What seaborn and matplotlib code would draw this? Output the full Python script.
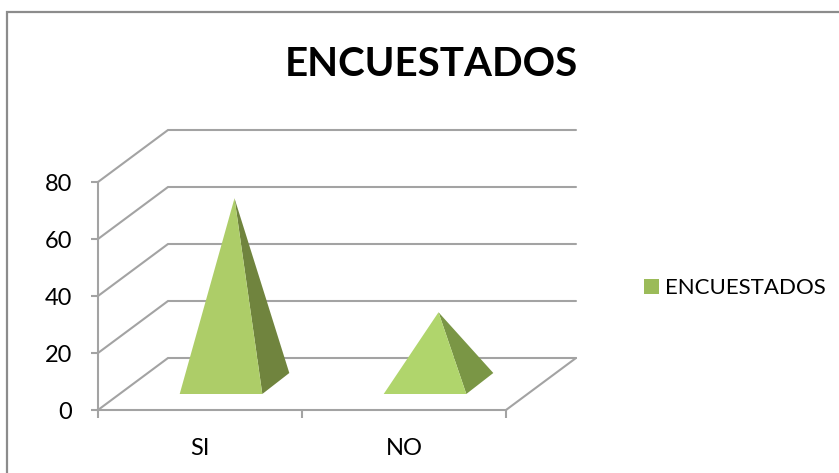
import matplotlib
matplotlib.use('Agg')
import matplotlib.pyplot as plt
import seaborn as sns
import pandas as pd
from matplotlib.lines import Line2D
from matplotlib.patches import Patch, Polygon

# Data
categories = ['SI', 'NO']
encuestados = [65, 25]
y_ticks = [0, 20, 40, 60, 80]

sns.set_theme(style='white')
plt.rcParams['font.family'] = ['Lato', 'DejaVu Sans']

W, H = 839, 473
GRID = '#a3a3a3'
FRONT = ['#adcd68', '#b0d56c']
SIDE = ['#70843e', '#7a9645']

fig = plt.figure(figsize=(W / 100, H / 100), dpi=100)
ax = fig.add_axes([98 / W, 1 - 410 / H, 408 / W, 228 / H])

df = pd.DataFrame({'respuesta': categories, 'encuestados': encuestados})
sns.barplot(data=df, x='respuesta', y='encuestados', width=0.405, ax=ax)
ax.set_xlim(-0.5, 1.5)
ax.set_ylim(0, 80)
ax.set_xlabel('')
ax.set_ylabel('')

# pixel offsets converted to data units
px_x = 2.0 / 408
px_y = 80 / 228
DEPTH_X, DEPTH_Y = 70 * px_x, 52 * px_y
BAR_DX, BAR_DY = 21 * px_x, 16 * px_y
SIDE_DX, SIDE_DY = 27 * px_x, 21 * px_y

# back wall, left wall and floor
for v in y_ticks:
    ax.plot([-0.5, -0.5 + DEPTH_X, 1.5 + DEPTH_X], [v, v + DEPTH_Y, v + DEPTH_Y],
            color=GRID, lw=1.5, clip_on=False, zorder=1, solid_joinstyle='miter')
ax.plot([1.5, 1.5 + DEPTH_X], [0, DEPTH_Y], color=GRID, lw=1.5, clip_on=False, zorder=1)

# pyramids, built on the bars seaborn placed
for i, bar in enumerate(ax.patches):
    x0 = bar.get_x() + BAR_DX
    x1 = x0 + bar.get_width()
    y0 = BAR_DY
    apex = ((x0 + x1 + SIDE_DX) / 2, y0 + SIDE_DY / 2 + bar.get_height())
    back = (x1 + SIDE_DX, y0 + SIDE_DY)
    ax.add_patch(Polygon([(x1, y0), back, apex], closed=True, fc=SIDE[i], ec='none',
                         clip_on=False, zorder=3))
    ax.add_patch(Polygon([(x0, y0), (x1, y0), apex], closed=True, fc=FRONT[i], ec='none',
                         clip_on=False, zorder=4))
    bar.set_visible(False)

# axes and ticks
sns.despine(ax=ax, top=True, right=True)
for side in ['left', 'bottom']:
    ax.spines[side].set_color(GRID)
    ax.spines[side].set_linewidth(1.5)
ax.set_yticks(y_ticks)
ax.set_xticks([0, 1], labels=categories)
ax.set_xticks([-0.5, 0.5, 1.5], minor=True)
ax.tick_params(axis='y', left=True, length=5, width=1.5, color=GRID, labelsize=17,
               labelcolor='black', pad=13.5)
ax.tick_params(axis='x', which='major', bottom=False, labelsize=17, labelcolor='black', pad=14)
ax.tick_params(axis='x', which='minor', bottom=True, length=6, width=1.5, color=GRID)

fig.text(431 / W, 1 - 64 / H, 'ENCUESTADOS', fontsize=29, fontweight='bold',
         ha='center', va='center', color='black')

handle = Patch(fc='#9bbb59', ec='none')
fig.legend(handles=[handle], labels=['ENCUESTADOS'], loc='center left',
           bbox_to_anchor=(637 / W, 1 - 288 / H), frameon=False, fontsize=16,
           labelcolor='black', handlelength=0.68, handleheight=0.68, handletextpad=0.3,
           borderpad=0, borderaxespad=0.3)

# outer chart frame, cut off at the right and bottom of the image
fig.add_artist(Line2D([7 / W, 7 / W, 1], [0, 1 - 12 / H, 1 - 12 / H],
                      color='#8c8c8c', lw=1.6, transform=fig.transFigure,
                      solid_joinstyle='miter'))

fig.savefig('out.png', dpi=100)
